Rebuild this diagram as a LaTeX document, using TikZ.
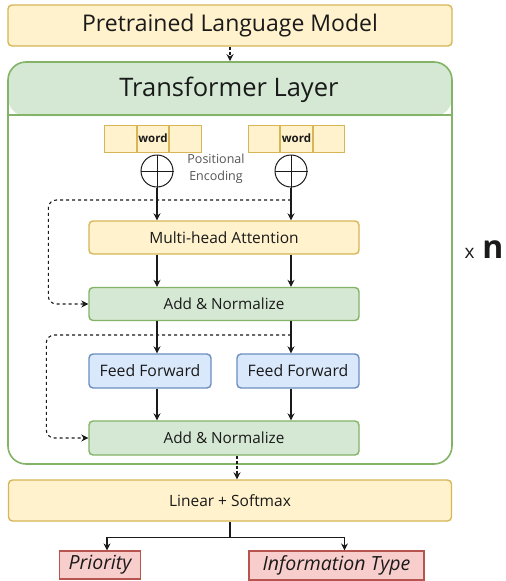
\documentclass[tikz,border=0pt]{standalone}
\usepackage{fontspec}
\setmainfont{Open Sans}
\usetikzlibrary{arrows.meta,positioning,calc}
\definecolor{ylwfill}{HTML}{FFF2CC}
\definecolor{ylwline}{HTML}{D6B656}
\definecolor{grnfill}{HTML}{D5E8D4}
\definecolor{grnline}{HTML}{82B366}
\definecolor{blufill}{HTML}{DAE8FC}
\definecolor{bluline}{HTML}{6C8EBF}
\definecolor{redfill}{HTML}{F8CECC}
\definecolor{redline}{HTML}{B85450}
\definecolor{ink}{HTML}{1A1A1A}
\definecolor{note}{HTML}{555555}

\begin{document}
\begin{tikzpicture}[x=1pt,y=-1pt,
  box/.style={rounded corners=4pt,line width=1.4pt,inner sep=0pt,text=ink,align=center},
  ylw/.style={box,draw=ylwline,fill=ylwfill},
  grn/.style={box,draw=grnline,fill=grnfill},
  blu/.style={box,draw=bluline,fill=blufill},
  outbox/.style={draw=redline,fill=redfill,line width=1.2pt,inner sep=0pt,text=ink,
            font=\fontsize{19.5}{22}\selectfont\itshape},
  cell/.style={draw=ylwline,fill=ylwfill,line width=1pt,minimum width=31.5pt,
            minimum height=27pt,inner sep=0pt,text=ink,font=\fontsize{11.5}{13}\selectfont\bfseries},
  oplus/.style={circle,draw=ink,line width=1pt,minimum size=32pt,inner sep=0pt},
  arr/.style={-{Stealth[length=7pt,width=7pt]},line width=1.1pt,draw=ink},
  res/.style={arr,dash pattern=on 3pt off 3pt,rounded corners=8pt}
]
\useasboundingbox (0,0) rectangle (506,581);

% top block and the repeated layer
\node[ylw,minimum width=444pt,minimum height=41pt,font=\fontsize{23}{26}\selectfont]
  (plm) at (230,25.5) {Pretrained Language Model};
\node[draw=grnline,fill=white,line width=1.6pt,rounded corners=18pt,
      minimum width=444pt,minimum height=402pt,
      path picture={\fill[grnfill] (path picture bounding box.north west)
        rectangle ([yshift=-54pt]path picture bounding box.north east);}]
  (layer) at (230,263) {};
\draw[grnline,line width=1.6pt] ([yshift=-54pt]layer.north west) -- ([yshift=-54pt]layer.north east);
\node[text=ink,font=\fontsize{25.5}{28}\selectfont] (ttl) at (229,90) {Transformer Layer};
\node[text=ink,anchor=base west] (rep) at (461,258)
  {\fontsize{19}{19}\selectfont x\hspace{8pt}\fontsize{32}{32}\selectfont\bfseries n};

% token embeddings
\node[cell] (wl2) at (153,138.5) {word};
\node[cell,left=0pt of wl2] (wl1) {};
\node[cell,right=0pt of wl2] (wl3) {};
\node[cell] (wr2) at (296.5,138.5) {word};
\node[cell,left=0pt of wr2] (wr1) {};
\node[cell,right=0pt of wr2] (wr3) {};

\node[oplus] (pl) at (157,171) {};
\node[oplus] (pr) at (291,171) {};
\draw[ink,line width=1pt] (pl.north) -- (pl.south) (pl.west) -- (pl.east);
\draw[ink,line width=1pt] (pr.north) -- (pr.south) (pr.west) -- (pr.east);
\node[text=note,font=\fontsize{12.5}{17}\selectfont,align=center] (pe) at (216,169)
  {Positional\\Encoding};

% blocks inside the layer
\node[ylw,minimum width=270pt,minimum height=33pt,font=\fontsize{15.5}{18}\selectfont]
  (mha) at (224,237.5) {Multi-head Attention};
\node[grn,minimum width=270pt,minimum height=33pt,font=\fontsize{15.3}{18}\selectfont]
  (an1) at (224,304) {Add \& Normalize};
\node[blu,minimum width=122pt,minimum height=34pt,font=\fontsize{15.8}{18}\selectfont]
  (ffl) at (150,371) {Feed Forward};
\node[blu,minimum width=122pt,minimum height=34pt,font=\fontsize{15.8}{18}\selectfont]
  (ffr) at (298,371) {Feed Forward};
\node[grn,minimum width=270pt,minimum height=34pt,font=\fontsize{15.3}{18}\selectfont]
  (an2) at (224,438) {Add \& Normalize};

% output head
\node[ylw,minimum width=443pt,minimum height=41pt,font=\fontsize{15.5}{18}\selectfont]
  (lin) at (230,500.5) {Linear + Softmax};
\node[outbox,minimum width=81pt,minimum height=28pt] (pri) at (100,565) {Priority};
\node[outbox,minimum width=175pt,minimum height=29pt] (inf) at (336.5,565.5) {Information Type};

% columns and residual taps
\coordinate (cl) at (157,0);
\coordinate (cr) at (291,0);
\coordinate (r1) at (291,200);
\coordinate (r2) at (291,335);

\draw[arr,dash pattern=on 3pt off 2pt] (plm.south) -- (layer.north);
\draw[arr] (pl.south) -- (cl |- mha.north);
\draw[arr] (pr.south) -- (cr |- mha.north);
\draw[arr] (cl |- mha.south) -- (cl |- an1.north);
\draw[arr] (cr |- mha.south) -- (cr |- an1.north);
\draw[arr] (cl |- an1.south) -- (cl |- ffl.north);
\draw[arr] (cr |- an1.south) -- (cr |- ffr.north);
\draw[arr] (cl |- ffl.south) -- (cl |- an2.north);
\draw[arr] (cr |- ffr.south) -- (cr |- an2.north);
\draw[res] (r1) -| ([xshift=-40pt]an1.west) -- (an1.west);
\draw[res] (r2) -| ([xshift=-42pt]an2.west) -- (an2.west);
\draw[arr,dash pattern=on 3pt off 2pt] ([xshift=13pt]an2.south) -- ([xshift=13pt]an2.south |- lin.north);
\draw[arr] (lin.south) -- ++(0,16) coordinate (fork) -| ([xshift=7pt]pri.north);
\draw[arr] (fork) -| ([xshift=8pt]inf.north);
\end{tikzpicture}
\end{document}
